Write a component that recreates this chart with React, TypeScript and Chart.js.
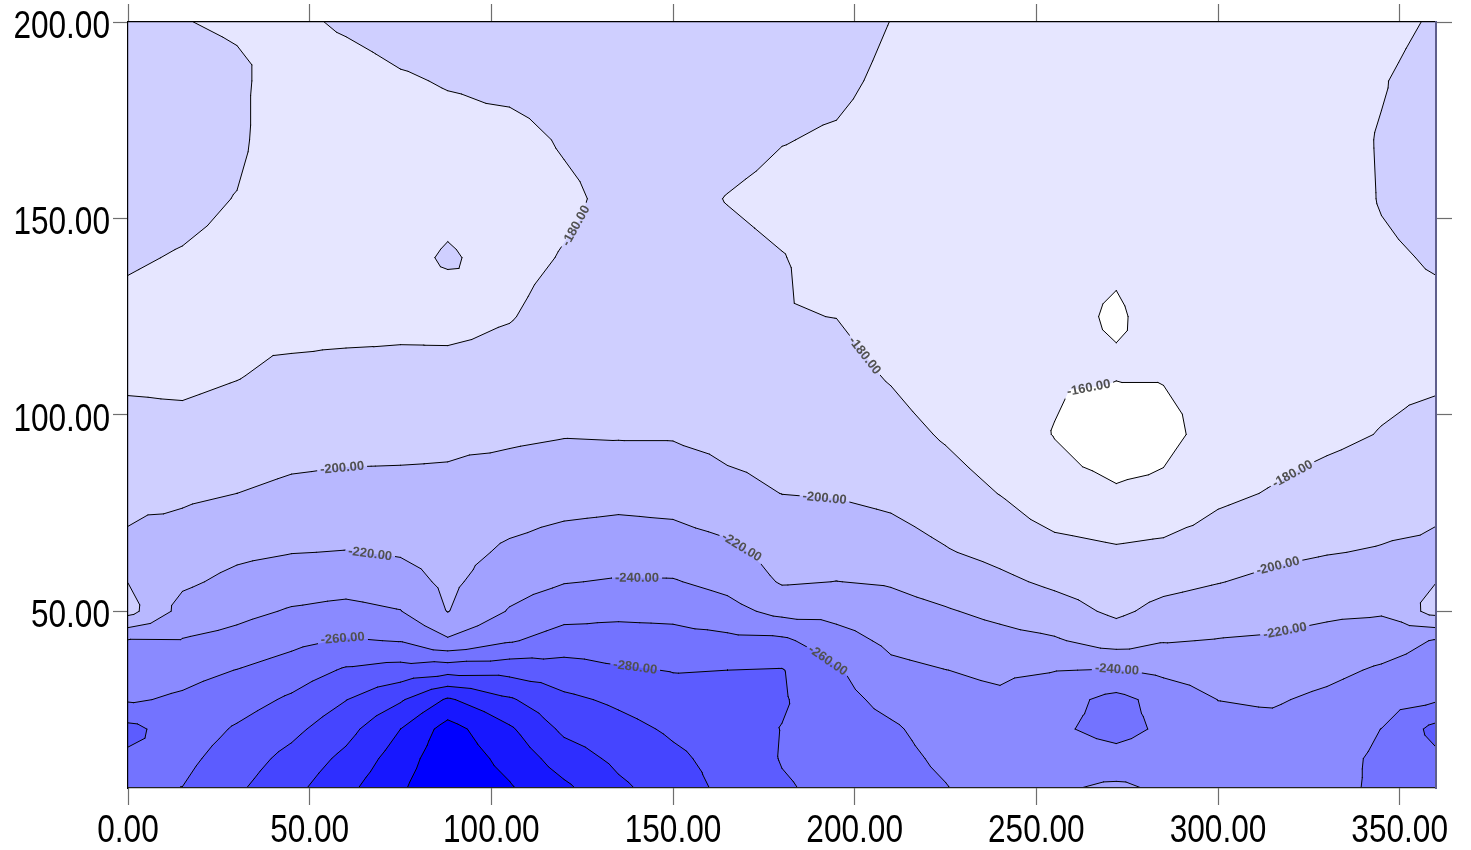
import React, { useEffect, useRef } from "react";
import { Chart, registerables } from "chart.js";

Chart.register(...registerables);

// grid coordinates (data units)
const xGrid = [0, 15, 30, 45, 60, 75, 88, 105, 120, 135, 150, 165, 180, 195, 210, 225, 240, 255, 272, 285, 300, 315, 330, 345, 360];
const yGrid = [5, 12.5, 20, 27.5, 35, 42.5, 50, 57.5, 65, 80, 95, 110, 125, 140, 155, 170, 185, 200];

// grid values, one row per y
const zAt005 = [-274, -280.3, -297, -314, -335, -357, -378, -362, -344, -324, -310, -295, -282, -275, -270, -261, -246, -243, -236, -243.5, -249, -253, -255, -263, -274];
const zAt012 = [-276.2, -274.5, -290, -306, -325, -350, -374, -353.4, -330.3, -315.4, -304, -293, -279, -273, -267, -255.8, -246, -250, -253.8, -250, -248, -250, -254, -263, -276.2];
const zAt020 = [-286, -268.7, -282.2, -294.8, -313.2, -340, -368, -342.9, -316, -306.6, -297, -290, -279.5, -271, -263, -250.6, -245, -257, -266, -257, -245, -245, -250, -260.2, -286];
const zAt027 = [-257.7, -262.9, -271.3, -283.1, -299.5, -317.7, -342.5, -322.4, -304.2, -296.4, -288.2, -285, -282, -267, -253.9, -245.4, -243, -252, -266, -253, -239.8, -238, -244, -251.6, -257.7];
const zAt035 = [-249.6, -253.6, -260.4, -269.1, -282.3, -287.8, -292.7, -293.3, -288.5, -282.4, -279.2, -280, -281, -262, -244.7, -240.2, -236.8, -239.4, -241, -235.4, -230.3, -230.1, -235, -242.6, -249.6];
const zAt042 = [-241.5, -241.1, -246.3, -254.9, -261.8, -259.1, -242.7, -258, -269.1, -268.7, -267.1, -264.9, -263.9, -248.2, -235.7, -230.9, -226.1, -222.1, -211.3, -218.9, -220.8, -222.3, -225.8, -230.3, -241.5];
const zAt050 = [-193, -227.1, -234.6, -241.8, -245.4, -240.6, -219.4, -241.4, -252.4, -255.2, -254.4, -246.7, -234, -233.5, -227.1, -221.6, -215.2, -208.2, -196.3, -205.5, -210, -213.4, -216.7, -218, -193];
const zAt057 = [-200.3, -216.6, -225, -230.4, -232.3, -228.6, -215.7, -232, -239.1, -241.6, -241.3, -234, -218.2, -220.2, -218.3, -211.6, -204, -196.4, -189.5, -194.5, -199.3, -204.2, -207.7, -209.7, -200.3];
const zAt065 = [-203, -209.6, -216.2, -219.5, -220.6, -218.2, -212.6, -223.3, -229, -231.2, -230.1, -224.9, -212, -212.5, -208.9, -201.4, -194.9, -187.2, -182.8, -185.3, -190.8, -196, -199.2, -201.4, -203];
const zAt080 = [-196.2, -196.8, -200, -203.5, -205, -205.3, -204.6, -209.2, -212, -213.7, -212, -204.5, -199.8, -198.8, -195.5, -188.9, -179.5, -166, -162, -163.9, -176, -181.3, -187.1, -190.8, -196.2];
const zAt095 = [-186.4, -186.1, -189.6, -192.8, -193.8, -194.2, -196, -197.1, -199.1, -198.5, -198.5, -195, -193.4, -192.5, -187, -178, -168, -159.5, -150, -155, -167, -172, -176, -180.7, -186.4];
const zAt110 = [-176.7, -175.5, -179.1, -184.8, -187, -185.5, -186.2, -187.7, -192.9, -192, -191, -189, -187, -186.3, -178.5, -169, -164, -161.8, -161, -161, -166, -169, -172, -176, -176.7];
const zAt125 = [-176.5, -174, -175, -172, -172, -175, -174, -179, -186.8, -187, -188, -186, -180.8, -179.8, -172, -166, -163, -162, -159.2, -162.4, -166, -168, -171, -175, -176.5];
const zAt140 = [-181.5, -179, -176, -171, -167, -176, -181.5, -175, -181, -185, -186, -184, -180.5, -175, -170, -165, -163, -162, -161, -163, -166, -168, -171, -177.5, -181.5];
const zAt155 = [-186, -184, -179.5, -170, -166, -172, -176, -172, -177, -184, -185, -179.5, -176, -175, -171, -166, -164, -163, -161.5, -163, -166, -168, -171, -181, -186];
const zAt170 = [-189, -186, -183, -170, -168, -173, -175, -175, -181.5, -186, -188, -185, -180.5, -178.5, -174, -168, -166, -165, -162.5, -164, -166.5, -168.5, -171, -181.5, -189];
const zAt185 = [-190, -186, -183, -172, -174, -178.5, -181, -184, -187, -190, -191, -188, -184, -183, -177, -171, -168, -166, -164, -165, -167, -169, -171, -178.5, -190];
const zAt200 = [-183, -180.5, -178, -177, -182, -186, -187, -188, -190, -192, -192, -190, -187, -186, -179.8, -173, -170, -168, -166, -167, -168, -170, -172, -172, -183];

const zRows = [zAt005, zAt012, zAt020, zAt027, zAt035, zAt042, zAt050, zAt057, zAt065, zAt080, zAt095, zAt110, zAt125, zAt140, zAt155, zAt170, zAt185, zAt200];

// contour levels and band colours (bandColors[0] below the first level, bandColors[k+1] above level k)
const contourLevels = [-360, -340, -320, -300, -280, -260, -240, -220, -200, -180, -160];
const bandColors = ["#0000ff", "#1717ff", "#2e2eff", "#4545ff", "#5c5cff", "#7373ff", "#8a8aff", "#a1a1ff", "#b8b8ff", "#cfcfff", "#e6e6ff", "#ffffff"];

const xTickValues = [0, 50, 100, 150, 200, 250, 300, 350];
const yTickValues = [50, 100, 150, 200];

// contour labels: level and approximate anchor (data units)
const labelLevels = [-180, -180, -180, -160, -200, -200, -200, -220, -220, -220, -240, -240, -260, -260, -280];
const labelX = [123.0, 202.9, 321.2, 264.8, 59.2, 191.6, 316.5, 66.6, 169.8, 317.1, 140.1, 272.2, 59.2, 193.2, 139.6];
const labelY = [148.3, 115.2, 83.9, 103.7, 84.4, 77.5, 61.5, 64.3, 67.3, 50.9, 58.4, 35.0, 42.6, 38.3, 35.8];

type P = [number, number, number];

function clipAbove(poly: P[], L: number): P[] {
  const out: P[] = [];
  const n = poly.length;
  for (let i = 0; i < n; i++) {
    const a = poly[i];
    const b = poly[(i + 1) % n];
    const ina = a[2] >= L;
    const inb = b[2] >= L;
    if (ina) out.push(a);
    if (ina !== inb) {
      const t = (L - a[2]) / (b[2] - a[2]);
      out.push([a[0] + t * (b[0] - a[0]), a[1] + t * (b[1] - a[1]), L]);
    }
  }
  return out;
}

function crossSeg(tri: P[], L: number): number[] | null {
  const pts: number[][] = [];
  for (let i = 0; i < 3; i++) {
    const a = tri[i];
    const b = tri[(i + 1) % 3];
    const da = a[2] - L;
    const db = b[2] - L;
    if (da >= 0 !== db >= 0) {
      const t = da / (da - db);
      pts.push([a[0] + t * (b[0] - a[0]), a[1] + t * (b[1] - a[1])]);
    }
  }
  return pts.length === 2 ? [pts[0][0], pts[0][1], pts[1][0], pts[1][1]] : null;
}

const contourPlugin = {
  id: "contourPlugin",
  beforeDraw(chart: any) {
    const ctx: CanvasRenderingContext2D = chart.ctx;
    const sx = chart.scales.x;
    const sy = chart.scales.y;
    const area = chart.chartArea;
    const tris: P[][] = [];
    for (let j = 0; j < yGrid.length - 1; j++) {
      for (let i = 0; i < xGrid.length - 1; i++) {
        const x0 = sx.getPixelForValue(xGrid[i]);
        const x1 = sx.getPixelForValue(xGrid[i + 1]);
        const y0 = sy.getPixelForValue(yGrid[j]);
        const y1 = sy.getPixelForValue(yGrid[j + 1]);
        const a: P = [x0, y0, zRows[j][i]];
        const b: P = [x1, y0, zRows[j][i + 1]];
        const c: P = [x1, y1, zRows[j + 1][i + 1]];
        const d: P = [x0, y1, zRows[j + 1][i]];
        const m: P = [(x0 + x1) / 2, (y0 + y1) / 2, (a[2] + b[2] + c[2] + d[2]) / 4];
        tris.push([a, b, m], [b, c, m], [c, d, m], [d, a, m]);
      }
    }

    ctx.save();
    ctx.beginPath();
    ctx.rect(area.left, area.top, area.right - area.left, area.bottom - area.top);
    ctx.clip();
    ctx.fillStyle = bandColors[0];
    ctx.fillRect(area.left, area.top, area.right - area.left, area.bottom - area.top);

    contourLevels.forEach((L, k) => {
      ctx.beginPath();
      for (const t of tris) {
        const p = clipAbove(t, L);
        if (p.length < 3) continue;
        ctx.moveTo(p[0][0], p[0][1]);
        for (let q = 1; q < p.length; q++) ctx.lineTo(p[q][0], p[q][1]);
        ctx.closePath();
      }
      ctx.fillStyle = bandColors[k + 1];
      ctx.fill();
    });

    // contour segments
    const segs: Record<number, number[][]> = {};
    contourLevels.forEach((L) => {
      const list: number[][] = [];
      for (const t of tris) {
        const s = crossSeg(t, L);
        if (s) list.push(s);
      }
      segs[L] = list;
    });

    // label placement
    ctx.font = 'bold 13px "Liberation Sans", Arial, sans-serif';
    const labels: { x: number; y: number; a: number; text: string; w: number }[] = [];
    labelLevels.forEach((L, i) => {
      const ax = sx.getPixelForValue(labelX[i]);
      const ay = sy.getPixelForValue(labelY[i]);
      const list = segs[L] || [];
      let best = -1;
      let bd = Infinity;
      let bp = [ax, ay];
      list.forEach((s, k) => {
        const dx = s[2] - s[0];
        const dy = s[3] - s[1];
        const len2 = dx * dx + dy * dy || 1e-9;
        let t = ((ax - s[0]) * dx + (ay - s[1]) * dy) / len2;
        t = Math.max(0, Math.min(1, t));
        const px = s[0] + t * dx;
        const py = s[1] + t * dy;
        const d = (px - ax) ** 2 + (py - ay) ** 2;
        if (d < bd) {
          bd = d;
          best = k;
          bp = [px, py];
        }
      });
      if (best < 0) return;
      const ref = list[best];
      const rx = ref[2] - ref[0];
      const ry = ref[3] - ref[1];
      let sxv = 0;
      let syv = 0;
      list.forEach((s) => {
        const mx = (s[0] + s[2]) / 2;
        const my = (s[1] + s[3]) / 2;
        if ((mx - bp[0]) ** 2 + (my - bp[1]) ** 2 < 30 * 30) {
          let dx = s[2] - s[0];
          let dy = s[3] - s[1];
          if (dx * rx + dy * ry < 0) {
            dx = -dx;
            dy = -dy;
          }
          sxv += dx;
          syv += dy;
        }
      });
      let ang = Math.atan2(syv, sxv);
      if (ang > Math.PI / 2) ang -= Math.PI;
      if (ang <= -Math.PI / 2) ang += Math.PI;
      const text = L.toFixed(2);
      labels.push({ x: bp[0], y: bp[1], a: ang, text, w: ctx.measureText(text).width });
    });

    // lines with gaps under labels
    ctx.save();
    ctx.beginPath();
    ctx.rect(area.left - 2, area.top - 2, area.right - area.left + 4, area.bottom - area.top + 4);
    labels.forEach((lb) => {
      const hw = lb.w / 2 + 3;
      const hh = 7;
      const c = Math.cos(lb.a);
      const s = Math.sin(lb.a);
      const pts = [
        [-hw, -hh],
        [hw, -hh],
        [hw, hh],
        [-hw, hh],
      ].map(([u, v]) => [lb.x + u * c - v * s, lb.y + u * s + v * c]);
      ctx.moveTo(pts[0][0], pts[0][1]);
      ctx.lineTo(pts[1][0], pts[1][1]);
      ctx.lineTo(pts[2][0], pts[2][1]);
      ctx.lineTo(pts[3][0], pts[3][1]);
      ctx.closePath();
    });
    ctx.clip("evenodd");
    ctx.beginPath();
    contourLevels.forEach((L) => {
      for (const s of segs[L]) {
        ctx.moveTo(s[0], s[1]);
        ctx.lineTo(s[2], s[3]);
      }
    });
    ctx.strokeStyle = "#000000";
    ctx.lineWidth = 1;
    ctx.lineCap = "round";
    ctx.stroke();
    ctx.restore();

    // label text
    ctx.fillStyle = "#505050";
    ctx.textAlign = "center";
    ctx.textBaseline = "middle";
    labels.forEach((lb) => {
      ctx.save();
      ctx.translate(lb.x, lb.y);
      ctx.rotate(lb.a);
      ctx.fillText(lb.text, 0, 0.5);
      ctx.restore();
    });
    ctx.restore();
  },
};

// narrow axis tick labels, placed from the scales' own ticks
const axisLabelPlugin = {
  id: "axisLabelPlugin",
  afterDraw(chart: any) {
    const ctx: CanvasRenderingContext2D = chart.ctx;
    const sx = chart.scales.x;
    const sy = chart.scales.y;
    ctx.save();
    ctx.fillStyle = "#000";
    ctx.font = '39px "Liberation Sans", Arial, sans-serif';
    ctx.textBaseline = "alphabetic";
    const squeeze = 0.81;
    ctx.textAlign = "center";
    sx.ticks.forEach((t: any) => {
      const px = sx.getPixelForValue(t.value);
      ctx.save();
      ctx.translate(px, sx.top + 54);
      ctx.scale(squeeze, 1);
      ctx.fillText(Number(t.value).toFixed(2), 0, 0);
      ctx.restore();
    });
    ctx.textAlign = "right";
    sy.ticks.forEach((t: any) => {
      const py = sy.getPixelForValue(t.value);
      ctx.save();
      ctx.translate(sy.right - 18, py + 16);
      ctx.scale(squeeze, 1);
      ctx.fillText(Number(t.value).toFixed(2), 0, 0);
      ctx.restore();
    });
    ctx.restore();
  },
};

const tickColor = "#6e6e6e";

export default function App() {
  const ref = useRef<HTMLCanvasElement | null>(null);
  useEffect(() => {
    document.body.style.margin = "0";
    const points: { x: number; y: number }[] = [];
    yGrid.forEach((y) => xGrid.forEach((x) => points.push({ x, y })));
    const setX = (s: any) => {
      s.ticks = xTickValues.map((v) => ({ value: v }));
    };
    const setY = (s: any) => {
      s.ticks = yTickValues.map((v) => ({ value: v }));
    };
    const fitH = (h: number) => (s: any) => {
      s.height = h;
      s.paddingLeft = 0;
      s.paddingRight = 0;
      s.paddingTop = 0;
      s.paddingBottom = 0;
    };
    const fitW = (w: number) => (s: any) => {
      s.width = w;
      s.paddingLeft = 0;
      s.paddingRight = 0;
      s.paddingTop = 0;
      s.paddingBottom = 0;
    };
    const chart = new Chart(ref.current as HTMLCanvasElement, {
      type: "scatter",
      data: { datasets: [{ data: points, pointRadius: 0, pointHoverRadius: 0, showLine: false }] },
      options: {
        animation: false,
        responsive: false,
        devicePixelRatio: 1,
        events: [],
        layout: { padding: 0 },
        plugins: { legend: { display: false }, tooltip: { enabled: false }, title: { display: false } },
        scales: {
          x: {
            type: "linear",
            position: "bottom",
            min: 0,
            max: 360,
            afterBuildTicks: setX,
            afterFit: fitH(62),
            ticks: { display: false },
            grid: { drawOnChartArea: false, drawTicks: true, tickLength: 17, tickColor, tickWidth: 1.2 },
            border: { display: true, color: "#222", width: 1.2 },
          },
          x2: {
            type: "linear",
            position: "top",
            min: 0,
            max: 360,
            afterBuildTicks: setX,
            afterFit: fitH(22),
            ticks: { display: false },
            grid: { drawOnChartArea: false, drawTicks: true, tickLength: 18, tickColor, tickWidth: 1.2 },
            border: { display: true, color: "#000", width: 1.2 },
          },
          y: {
            type: "linear",
            position: "left",
            min: 5,
            max: 200,
            afterBuildTicks: setY,
            afterFit: fitW(128),
            ticks: { display: false },
            grid: { drawOnChartArea: false, drawTicks: true, tickLength: 15, tickColor, tickWidth: 1.2 },
            border: { display: true, color: "#000", width: 1.2 },
          },
          y2: {
            type: "linear",
            position: "right",
            min: 5,
            max: 200,
            afterBuildTicks: setY,
            afterFit: fitW(35),
            ticks: { display: false },
            grid: { drawOnChartArea: false, drawTicks: true, tickLength: 16, tickColor, tickWidth: 1.2 },
            border: { display: true, color: "#5e5e8c", width: 2 },
          },
        },
      } as any,
      plugins: [contourPlugin, axisLabelPlugin],
    });
    return () => chart.destroy();
  }, []);
  return (
    <div style={{ width: 1471, height: 850 }}>
      <canvas ref={ref} width={1471} height={850} style={{ display: "block" }} />
    </div>
  );
}
